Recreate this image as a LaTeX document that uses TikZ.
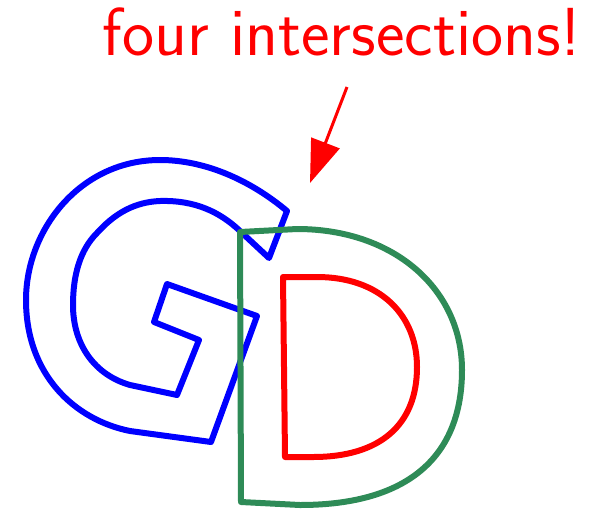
\documentclass[tikz,border=0pt]{standalone}
\usetikzlibrary{arrows.meta}
\definecolor{gblue}{RGB}{0,0,255}
\definecolor{dgreen}{RGB}{46,139,87}
\definecolor{dred}{RGB}{255,0,0}
\begin{document}
\begin{tikzpicture}[x=1pt,y=-1pt,
  letter/.style={line width=6pt,line join=round,line cap=round},
  note/.style={text=dred,font=\sffamily\fontsize{68}{76}\selectfont,inner sep=0pt,anchor=base}]
\useasboundingbox (0,0) rectangle (594,509);
% G
\draw[letter,gblue] (287,211)
  .. controls (250,180) and (205,160) .. (160,160)
  .. controls (80,160) and (26,230) .. (26,300)
  .. controls (26,375) and (75,420) .. (130,431)
  -- (211,442) -- (257,316) -- (167,284) -- (154,322) -- (199,340) -- (177,395)
  -- (130,385)
  .. controls (95,375) and (73,345) .. (73,305)
  .. controls (73,275) and (80,250) .. (97,233)
  .. controls (115,213) and (135,202) .. (160,201)
  .. controls (195,200) and (220,212) .. (240,231)
  -- (269,258) -- cycle;
% D outer
\draw[letter,dgreen] (240,232) -- (297,229)
  .. controls (395,229) and (462,290) .. (462,370)
  .. controls (462,455) and (410,505) .. (300,505)
  -- (241,502) -- cycle;
% D inner
\draw[letter,dred] (283,277) -- (317,277)
  .. controls (380,277) and (417,315) .. (417,367)
  .. controls (417,425) and (380,457) .. (313,457)
  -- (285,457) -- cycle;
% note
\node[note] (lbl) at (342,55) {four intersections!};
\coordinate (as) at (347,87);
\coordinate (ae) at (310,183);
\draw[dred,line width=3pt,-{Triangle[length=43pt,width=30pt]}] (as) -- (ae);
\end{tikzpicture}
\end{document}
